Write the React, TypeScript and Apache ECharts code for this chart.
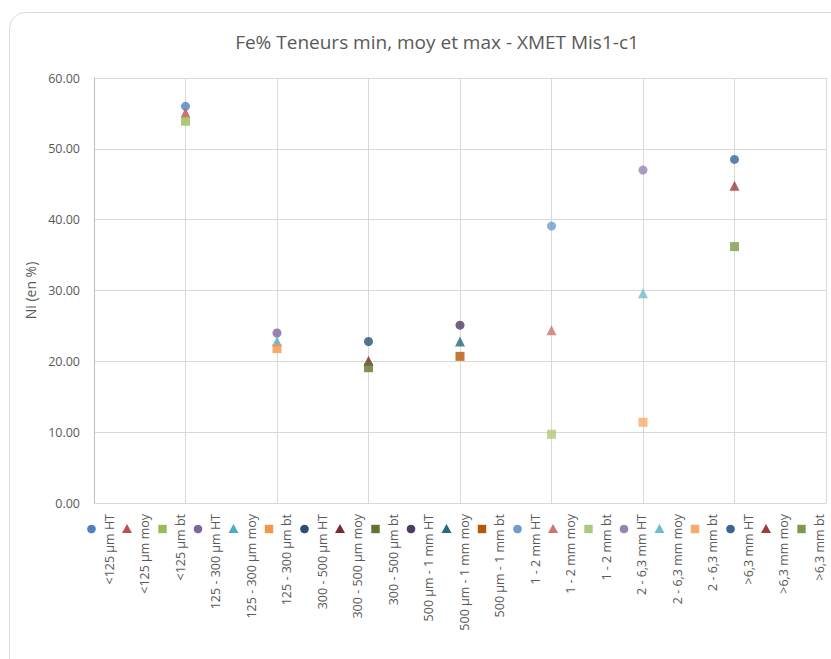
import React, { useEffect, useRef } from "react";
import * as echarts from "echarts";

const titleText = "Fe% Teneurs min, moy et max - XMET Mis1-c1";
const yAxisName = "Ni (en %)";
const groups = ["<125 µm", "125 - 300 µm", "300 - 500 µm", "500 µm - 1 mm", "1 - 2 mm", "2 - 6,3 mm", ">6,3 mm"];
const groupX = [1, 2, 3, 4, 5, 6, 7];
const htValues = [56.0, 24.0, 22.8, 25.1, 39.1, 47.0, 48.5];
const moyValues = [55.1, 22.8, 20.1, 22.8, 24.4, 29.6, 44.8];
const btValues = [53.9, 21.8, 19.1, 20.7, 9.7, 11.4, 36.2];
const htColors = ["#4F81BD", "#8064A2", "#2C4D75", "#4D3B62", "#729ACA", "#9983B5", "#3A6596"];
const moyColors = ["#C0504D", "#4BACC6", "#772C2A", "#276A7C", "#CD7371", "#6FBDD1", "#9C3D3B"];
const btColors = ["#9BBB59", "#F79646", "#5F7530", "#B65708", "#AFC97A", "#F9AB6B", "#7E9A48"];
const kinds = ["HT", "moy", "bt"];
const kindSymbols = ["circle", "triangle", "rect"];
const yMin = 0;
const yMax = 60;
const yInterval = 10;

const FONT = "'Open Sans', 'Liberation Sans', sans-serif";

export default function App() {
  const ref = useRef<HTMLDivElement>(null);
  useEffect(() => {
    if (!ref.current) return;
    const chart = echarts.init(ref.current, undefined, { renderer: "svg" });

    const entries: { name: string; x: number; value: number; color: string; symbol: string }[] = [];
    groups.forEach((g, i) => {
      const vals = [htValues[i], moyValues[i], btValues[i]];
      const cols = [htColors[i], moyColors[i], btColors[i]];
      kinds.forEach((k, j) => {
        entries.push({ name: g + " " + k, x: groupX[i], value: vals[j], color: cols[j], symbol: kindSymbols[j] });
      });
    });

    const series = entries.map((e) => ({
      type: "scatter",
      name: e.name,
      data: [[e.x, e.value]],
      symbol: e.symbol,
      symbolSize: e.symbol === "triangle" ? 10 : 9,
      itemStyle: { color: e.color },
      z: 3,
    }));

    const legendX0 = 91.5;
    const legendStep = 35.5;
    const legendY = 529;
    const textOffset = 17.5;
    const graphics: any[] = [
      {
        type: "rect",
        shape: { x: 9.5, y: 12.5, width: 900, height: 760, r: 16 },
        style: { fill: "none", stroke: "#d9d9d9", lineWidth: 1 },
        silent: true,
        z: -1,
      },
    ];
    entries.forEach((e, idx) => {
      const cx = legendX0 + idx * legendStep;
      if (e.symbol === "circle") {
        graphics.push({ type: "circle", shape: { cx, cy: legendY, r: 4.3 }, style: { fill: e.color } });
      } else if (e.symbol === "rect") {
        graphics.push({ type: "rect", shape: { x: cx - 4.2, y: legendY - 4.2, width: 8.4, height: 8.4 }, style: { fill: e.color } });
      } else {
        graphics.push({
          type: "polygon",
          shape: { points: [[cx, legendY - 5], [cx + 5, legendY + 4], [cx - 5, legendY + 4]] },
          style: { fill: e.color },
        });
      }
      graphics.push({
        type: "text",
        x: cx + textOffset,
        y: 514,
        rotation: Math.PI / 2,
        style: {
          text: e.name,
          align: "right",
          verticalAlign: "middle",
          fill: "#595959",
          font: "12.5px " + FONT,
        },
      });
    });

    chart.setOption({
      animation: false,
      backgroundColor: "#ffffff",
      title: {
        text: titleText,
        left: 432,
        top: 27,
        textAlign: "center",
        textStyle: { color: "#595959", fontSize: 19, fontWeight: "normal", fontFamily: FONT },
      },
      grid: { left: 94, top: 78, right: 5, bottom: 156, containLabel: false },
      xAxis: {
        type: "value",
        min: 0,
        max: 8,
        interval: 1,
        axisLabel: { show: false },
        axisTick: { show: false },
        axisLine: { show: true, lineStyle: { color: "#d9d9d9" } },
        splitLine: { show: true, lineStyle: { color: "#d9d9d9", width: 1 } },
      },
      yAxis: {
        type: "value",
        min: yMin,
        max: yMax,
        interval: yInterval,
        name: yAxisName,
        nameLocation: "middle",
        nameGap: 55,
        nameTextStyle: { color: "#595959", fontSize: 14, fontFamily: FONT },
        axisLabel: {
          color: "#595959",
          fontSize: 12.5,
          fontFamily: FONT,
          margin: 14,
          formatter: (v: number) => v.toFixed(2),
        },
        axisTick: { show: false },
        axisLine: { show: true, lineStyle: { color: "#bfbfbf" } },
        splitLine: { show: true, lineStyle: { color: "#d9d9d9", width: 1 } },
      },
      graphic: graphics,
      series,
    });
    return () => chart.dispose();
  }, []);
  return (
    <div
      ref={ref}
      style={{ position: "fixed", left: 0, top: 0, width: 831, height: 659, background: "#fff" }}
    />
  );
}
